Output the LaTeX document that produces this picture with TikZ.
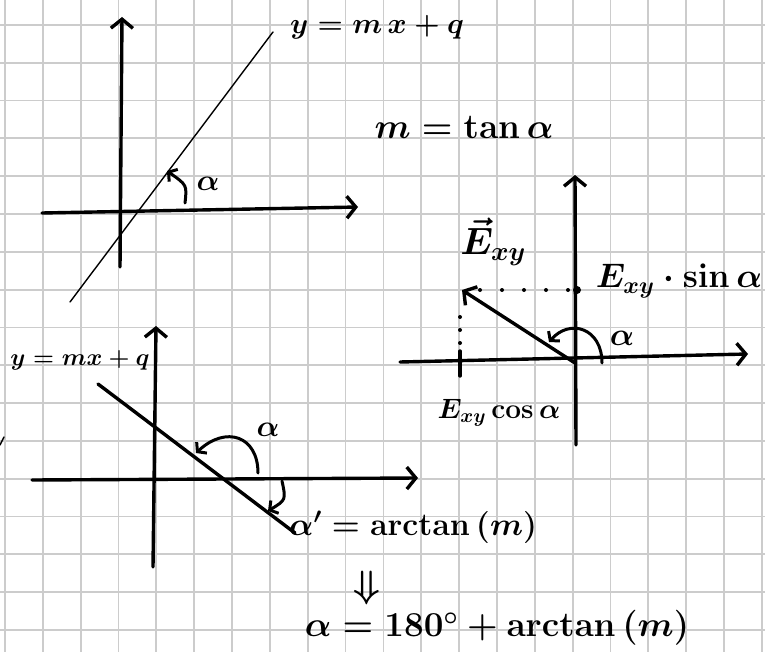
\RequirePackage{fix-cm}
\documentclass[tikz,border=0pt]{standalone}
\usepackage{amsmath}
\usepackage{amssymb}
\usepackage{tikz}
\usetikzlibrary{arrows.meta}

\begin{document}
\begin{tikzpicture}[
  x=1pt, y=-1pt,
  gridline/.style={draw=black!20, line width=1.8pt},
  axis/.style={draw, line width=3.4pt, line cap=round,
               -{Straight Barb[length=9pt, width=22pt]}},
  thinline/.style={draw, line width=1.4pt, line cap=round},
  thickline/.style={draw, line width=3.4pt, line cap=round},
  angarr/.style={draw, line width=3pt, line cap=round,
                 -{Straight Barb[length=6pt, width=15pt]}},
  dots/.style={draw, line width=4pt, line cap=round,
               dash pattern=on 0pt off 22pt},
  lbl/.style={font=\fontsize{#1}{#1}\selectfont\boldmath, inner sep=0pt},
  lbl/.default=30
]
% Paper and grid
\useasboundingbox (0,0) rectangle (765,652);
\fill[white] (0,0) rectangle (765,652);
\foreach \i in {0,...,20}
  \draw[gridline] ({4.9+37.85*\i},0) -- ({4.9+37.85*\i},652);
\foreach \j in {0,...,16}
  \draw[gridline] (0,{25+37.8*\j}) -- (765,{25+37.8*\j});

% Top left: rising line
\coordinate (ay1b) at (120,267);
\coordinate (ay1t) at (122,17);
\coordinate (ax1l) at (42,213);
\coordinate (ax1r) at (358,207);
\coordinate (l1a)  at (70,302);
\coordinate (l1b)  at (273,32);
\coordinate (a1s)  at (185,203);
\coordinate (a1e)  at (167,171);
\draw[axis] (ay1b) -- (ay1t);
\draw[axis] (ax1l) -- (ax1r);
\draw[thinline] (l1a) -- (l1b);
\draw[angarr] (a1s) .. controls (187,185) .. (a1e);
\node[lbl=29] (eq1) at (377,27) {$y=m\,x+q$};
\node[lbl=30] (al1) at (208,184) {$\alpha$};
\node[lbl=35] (tan) at (464,127) {$m=\tan\alpha$};

% Right: vector and its components
\coordinate (o2)   at (575,363);
\coordinate (ay2b) at (576,445);
\coordinate (ay2t) at (575,175);
\coordinate (ax2l) at (400,362);
\coordinate (ax2r) at (748,354);
\coordinate (tip)  at (462,290);
\coordinate (dh)   at (480,290);
\coordinate (sy)   at (577,290);
\coordinate (dvt)  at (460,317);
\coordinate (dvb)  at (460,345);
\coordinate (tkt)  at (460,351);
\coordinate (tkb)  at (460,376);
\coordinate (a2s)  at (602,363);
\coordinate (a2e)  at (549,342);
\draw[axis] (ay2b) -- (ay2t);
\draw[axis] (ax2l) -- (ax2r);
\draw[axis] (o2) -- (tip);
\draw[dots] (dh) -- (sy);
\draw[dots, dash pattern=on 0pt off 13pt] (dvt) -- (dvb);
\draw[thickline] (tkt) -- (tkb);
\fill (sy) circle (4);
\draw[angarr] (a2s) .. controls (602,328) and (570,318) .. (a2e);
\node[lbl=38] (evec) at (493,242) {$\vec{E}_{xy}$};
\node[lbl=34] (esin) at (679,281) {$E_{xy}\cdot\sin\alpha$};
\node[lbl=28] (ecos) at (499,413) {$E_{xy}\cos\alpha$};
\node[lbl=32] (al2)  at (622,338) {$\alpha$};

% Bottom left: falling line
\coordinate (ay3b) at (153,567);
\coordinate (ay3t) at (156,326);
\coordinate (ax3l) at (32,480);
\coordinate (ax3r) at (418,478);
\coordinate (l3a)  at (98,384);
\coordinate (l3b)  at (295,533);
\coordinate (a3s)  at (258,473);
\coordinate (a3e)  at (196,453);
\coordinate (b3s)  at (282,481);
\coordinate (b3e)  at (268,511);
\coordinate (s1)   at (0,445);
\coordinate (s2)   at (4,437);
\draw[axis] (ay3b) -- (ay3t);
\draw[axis] (ax3l) -- (ax3r);
\draw[thickline] (l3a) -- (l3b);
\draw[angarr] (a3s) .. controls (258,436) and (226,425) .. (a3e);
\draw[angarr] (b3s) .. controls (286,500) .. (b3e);
\draw[thinline] (s1) -- (s2);
\node[lbl=24] (eq3) at (80,360) {$y=mx+q$};
\node[lbl=30] (al3) at (268,430) {$\alpha$};
\node[lbl=32, anchor=west] (arct) at (289,527) {$\alpha'=\arctan\,(m)$};
\node[lbl=38] (impl) at (367,588) {$\Downarrow$};
\node[lbl=35] (res) at (497,628) {$\alpha=180^\circ+\arctan\,(m)$};

\end{tikzpicture}
\end{document}
